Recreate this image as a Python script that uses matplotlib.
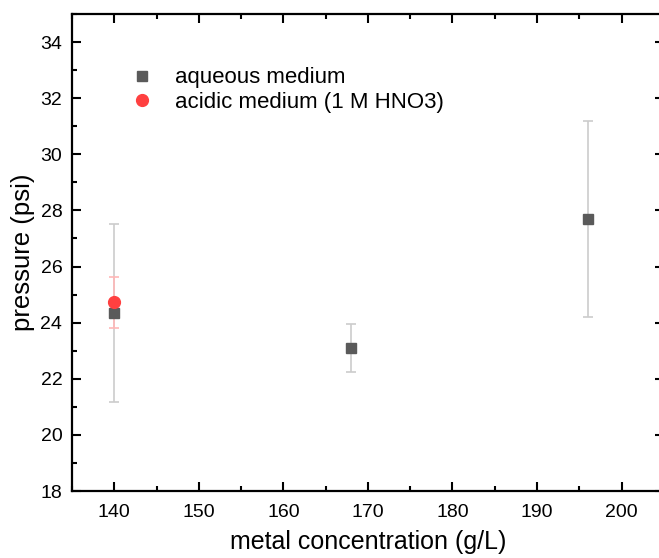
import matplotlib
matplotlib.use('Agg')
import matplotlib.pyplot as plt
from matplotlib.ticker import MultipleLocator

plt.rcParams['font.family'] = ['Liberation Sans', 'DejaVu Sans']

# aqueous medium
conc_aq = [140, 168, 196]
press_aq = [24.35, 23.1, 27.7]
err_aq = [3.17, 0.86, 3.5]

# acidic medium (1 M HNO3)
conc_ac = [140]
press_ac = [24.72]
err_ac = [0.9]

fig = plt.figure(figsize=(6.59, 5.58), dpi=100)
ax = fig.add_axes([0.1093, 0.120, 0.898, 0.855])

ax.errorbar(conc_aq, press_aq, yerr=err_aq, fmt='none', ecolor='#cccccc',
            elinewidth=1.2, capsize=3.6, capthick=1.2, zorder=2)
ax.errorbar(conc_ac, press_ac, yerr=err_ac, fmt='none', ecolor='#ffb8b8',
            elinewidth=1.2, capsize=3.6, capthick=1.2, zorder=2)
ax.plot(conc_aq, press_aq, 's', color='#5a5a5a', ms=7.5, ls='none',
        label='aqueous medium', zorder=3)
ax.plot(conc_ac, press_ac, 'o', color='#ff4040', ms=8.5, ls='none',
        label='acidic medium (1 M HNO3)', zorder=4)

ax.set_xlim(135, 205)
ax.set_ylim(18, 35)
ax.xaxis.set_major_locator(MultipleLocator(10))
ax.xaxis.set_minor_locator(MultipleLocator(5))
ax.yaxis.set_major_locator(MultipleLocator(2))
ax.yaxis.set_minor_locator(MultipleLocator(1))
ax.tick_params(which='both', direction='in', top=True, right=True, width=1.5,
               labelsize=14)
ax.tick_params(axis='x', pad=9)
ax.tick_params(axis='y', pad=7)
ax.tick_params(which='major', length=6.5)
ax.tick_params(which='minor', length=3.5)
for s in ax.spines.values():
    s.set_linewidth(1.6)
ax.spines['right'].set_visible(False)  # cut off in the original

ax.set_xlabel('metal concentration (g/L)', fontsize=18, labelpad=7)
ax.set_ylabel('pressure (psi)', fontsize=18.5, labelpad=4)

ax.legend(loc='upper left', bbox_to_anchor=(0.062, 0.93), frameon=False,
          fontsize=16, handletextpad=0.9, labelspacing=0.15,
          handlelength=1.2)

fig.savefig('out.png', dpi=100)
